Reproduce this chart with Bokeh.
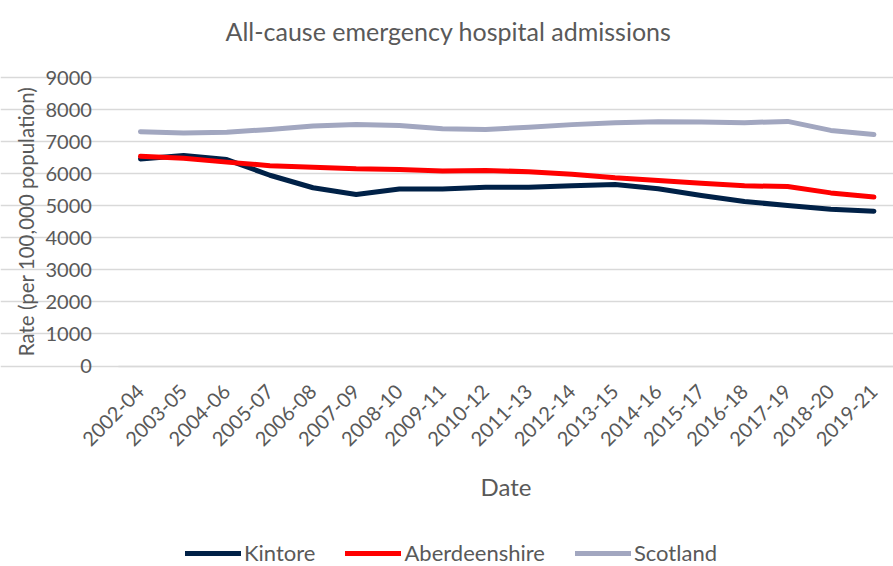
import math
from bokeh.plotting import figure
from bokeh.models import (ColumnDataSource, Legend, LegendItem, Label,
                          FixedTicker, Range1d, CustomJSTickFormatter)
from bokeh.embed import file_html
from bokeh.resources import INLINE

# Three-year rolling periods
periods = ["2002-04", "2003-05", "2004-06", "2005-07", "2006-08", "2007-09",
           "2008-10", "2009-11", "2010-12", "2011-13", "2012-14", "2013-15",
           "2014-16", "2015-17", "2016-18", "2017-19", "2018-20", "2019-21"]

# Emergency admission rates per 100,000 population
kintore = [6460, 6570, 6440, 5950, 5560, 5350, 5520, 5520, 5580, 5580,
           5620, 5660, 5530, 5320, 5130, 5010, 4890, 4830]
aberdeenshire = [6540, 6480, 6360, 6250, 6200, 6150, 6130, 6080, 6100, 6060,
                 5980, 5870, 5790, 5700, 5620, 5600, 5400, 5270]
scotland = [7310, 7270, 7290, 7380, 7490, 7530, 7500, 7400, 7380, 7450,
            7530, 7590, 7620, 7610, 7590, 7630, 7350, 7220]

y_ticks = [0, 1000, 2000, 3000, 4000, 5000, 6000, 7000, 8000, 9000]

FONT = "Lato"
GREY = "#595959"

W, H = 893, 566
n = len(periods)

# The frame covers the whole canvas; the plotting area is placed inside it
# so that rotated category labels are not cut at its left edge.
AREA_LEFT, AREA_RIGHT = 118.4, 895.0      # canvas columns of x = -0.5 and n - 0.5
Y_TOP_PX, Y_ZERO_PX = 77.0, 365.5         # canvas rows of y = 9000 and y = 0
px_x = (AREA_RIGHT - AREA_LEFT) / n
x_lo = -0.5 - AREA_LEFT / px_x
x_hi = n - 0.5 - (AREA_RIGHT - W) / px_x
px_y = (Y_ZERO_PX - Y_TOP_PX) / 9000.0
y_hi = 9000 + Y_TOP_PX / px_y
y_lo = -(H - Y_ZERO_PX) / px_y

xs = list(range(n))
src = ColumnDataSource(dict(x=xs, kintore=kintore,
                            aberdeenshire=aberdeenshire, scotland=scotland))

p = figure(width=W, height=H, output_backend="svg", toolbar_location=None,
           x_range=Range1d(x_lo, x_hi), y_range=Range1d(y_lo, y_hi),
           min_border=0)
p.outline_line_color = None
p.background_fill_color = "white"
p.border_fill_color = "white"

# Lines (later series drawn on top)
r_kin = p.line("x", "kintore", source=src, line_color="#002147", line_width=5,
               line_cap="round", line_join="round")
r_abd = p.line("x", "aberdeenshire", source=src, line_color="#ff0000", line_width=5,
               line_cap="round", line_join="round")
r_sco = p.line("x", "scotland", source=src, line_color="#a2a7c0", line_width=5,
               line_cap="round", line_join="round")

# Value axis at the left edge of the plotting area
yax = p.yaxis[0]
yax.fixed_location = -0.5
yax.bounds = (0, 9000)
yax.ticker = FixedTicker(ticks=y_ticks)
yax.axis_line_color = None
yax.major_tick_line_color = None
yax.minor_tick_line_color = None
yax.major_label_text_font = FONT
yax.major_label_text_font_size = "20px"
yax.major_label_text_color = GREY
yax.major_label_standoff = 21

# Category axis on the zero line
xax = p.xaxis[0]
xax.fixed_location = 0
xax.bounds = (-0.5, n - 0.5)
xax.ticker = FixedTicker(ticks=xs)
xax.formatter = CustomJSTickFormatter(args=dict(labels=periods),
                                      code="return labels[Math.round(tick)] || '';")
xax.major_label_orientation = math.pi / 4
xax.axis_line_color = "#d9d9d9"
xax.axis_line_width = 1.5
xax.major_tick_line_color = None
xax.minor_tick_line_color = None
xax.major_label_text_font = FONT
xax.major_label_text_font_size = "20px"
xax.major_label_text_color = GREY
xax.major_label_standoff = 16
xax.axis_label = "Date"
xax.axis_label_text_font = FONT
xax.axis_label_text_font_size = "24px"
xax.axis_label_text_font_style = "normal"
xax.axis_label_text_color = GREY
xax.axis_label_standoff = 16

p.xgrid.grid_line_color = None
p.ygrid.grid_line_color = "#d9d9d9"
p.ygrid.grid_line_width = 1.5
p.ygrid.bounds = (-0.5, n - 0.5)

# Value axis title
p.add_layout(Label(x=25, y=H - 221, x_units="screen", y_units="screen",
                   text="Rate (per 100,000 population)", angle=math.pi / 2,
                   text_font=FONT, text_font_size="20.5px", text_color=GREY,
                   text_align="center", text_baseline="middle"))

# Chart title
p.add_layout(Label(x=448, y=H - 30, x_units="screen", y_units="screen",
                   text="All-cause emergency hospital admissions",
                   text_font=FONT, text_font_size="25px", text_color=GREY,
                   text_align="center", text_baseline="middle"))

# Legend along the bottom
legend = Legend(items=[LegendItem(label="Kintore", renderers=[r_kin]),
                       LegendItem(label="Aberdeenshire", renderers=[r_abd]),
                       LegendItem(label="Scotland", renderers=[r_sco])],
                orientation="horizontal", location=(185, 0),
                label_text_font=FONT, label_text_font_size="22px",
                label_text_color=GREY, glyph_width=56, glyph_height=20,
                label_standoff=3, spacing=30, padding=0, margin=0,
                border_line_color=None, background_fill_alpha=0)
p.add_layout(legend, "center")

open("out.html", "w").write(file_html(p, INLINE))
